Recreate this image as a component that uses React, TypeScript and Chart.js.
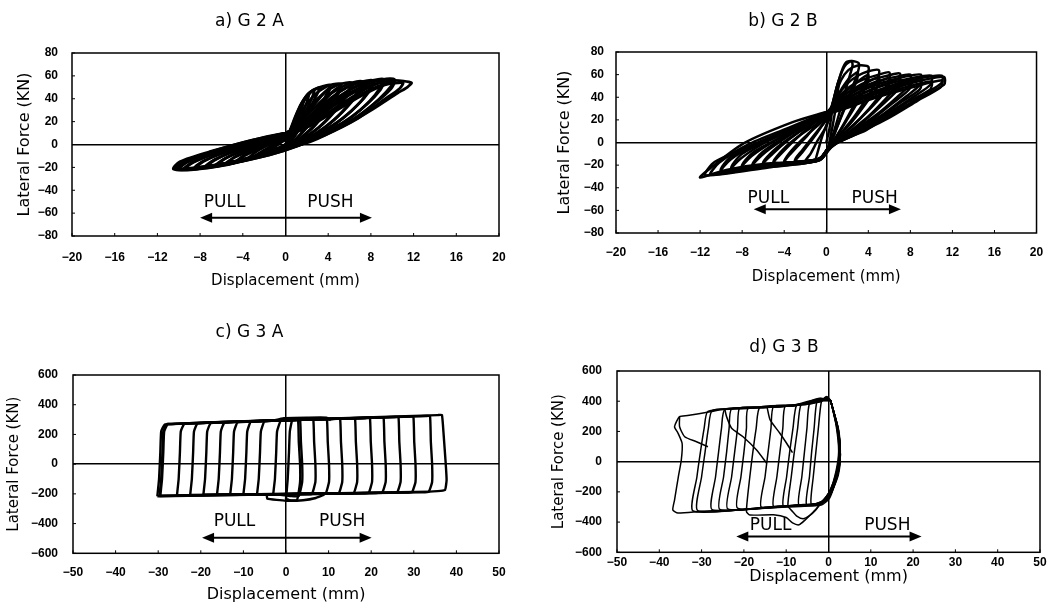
import React, { useEffect, useRef } from "react";
import { Chart, registerables } from "chart.js";
Chart.register(...registerables);

type P = [number, number];

const FONT = "'DejaVu Sans', 'Liberation Sans', sans-serif";
const TICK_FONT = "'Liberation Sans', Arial, sans-serif";

const TICKS_X_G2 = [-20, -16, -12, -8, -4, 0, 4, 8, 12, 16, 20];
const TICKS_Y_G2 = [-80, -60, -40, -20, 0, 20, 40, 60, 80];
const TICKS_X_G3 = [-50, -40, -30, -20, -10, 0, 10, 20, 30, 40, 50];
const TICKS_Y_G3 = [-600, -400, -200, 0, 200, 400, 600];

const TITLES = ["a) G 2 A", "b) G 2 B", "c) G 3 A", "d) G 3 B"];
const X_LABEL = "Displacement (mm)";
const Y_LABEL = "Lateral Force (KN)";
const PULL = "PULL";
const PUSH = "PUSH";

// ---- G2A hysteresis loops (displacement mm, force kN) ----
const G2A_LOOPS: P[][] = [
  [[0,0],[0.3,7],[0.7,15],[1.2,25],[1.0,19],[0.6,9],[0.2,2],[-0.5,-3],[-1.5,-6],[-1.0,-2],[-0.4,2],[0,4]],
  [[0,2],[0.35,9],[0.8,18],[1.3,30],[1.7,38],[1.5,31],[1.0,18],[0.5,6],[0,0],[-1,-4],[-2,-7],[-1.4,-3],[-0.6,1],[0,5]],
  [[0,4],[0.4,11],[0.9,22],[1.4,33],[1.8,40],[2.2,44],[2.0,37],[1.6,27],[1.0,13],[0.4,3],[-0.5,-3],[-1.5,-6.5],[-2.5,-9],[-1.8,-5],[-0.8,1],[0,6]],
  [[0,5],[0.4,11],[0.9,23],[1.4,34],[2.0,43],[2.7,48],[2.5,41],[2.0,31],[1.3,16],[0.5,3],[-0.5,-3.5],[-1.8,-7.5],[-3,-11],[-2.2,-6],[-0.9,1],[0,6]],
  [[0,6],[0.4,12],[0.9,24],[1.5,36],[2.2,45],[3.2,50],[2.9,43],[2.3,32],[1.5,17],[0.6,4],[-0.5,-4],[-2,-8.5],[-3.5,-12.5],[-2.7,-6],[-1.2,2],[0,7]],
  [[0,7],[0.5,13],[1.0,24],[1.6,36],[2.4,46],[3.2,50],[4.2,52],[3.9,45],[3.2,33],[2.2,18],[1.0,5],[0,-3],[-1.5,-7.5],[-3,-11.5],[-4.5,-15],[-3.8,-9],[-2.2,-1],[-0.8,5],[0,8]],
  [[0,6],[0.8,12],[1.8,24],[2.8,36],[3.6,45],[4.2,50],[3.9,43],[3.1,30],[2.0,15],[0.8,3],[-0.2,-3],[-2,-8],[-4.5,-14],[-3.9,-10],[-2,-2],[0,6]],
  [[0,8],[0.6,14],[1.3,26],[2.2,38],[3.2,47],[4.2,52],[5.2,53],[4.9,46],[4.1,34],[3.0,20],[1.6,7],[0.3,-2],[-1.5,-7.5],[-3.5,-12.5],[-5.5,-17.5],[-4.8,-11],[-3,-3],[-1.2,4],[0,8]],
  [[0,6],[1.0,12],[2.2,24],[3.4,36],[4.4,46],[5.2,51],[4.9,44],[4.0,31],[2.7,16],[1.2,4],[0,-3],[-2.5,-10],[-5.5,-16],[-4.7,-11],[-2.5,-2],[0,6]],
  [[0,8],[0.8,15],[1.8,28],[3.0,40],[4.2,49],[5.2,53],[6.2,54],[5.9,47],[5.0,35],[3.8,21],[2.2,8],[0.6,-1],[-1.5,-8],[-4,-14],[-6.5,-19],[-5.7,-12.5],[-3.8,-4],[-1.6,4],[0,8]],
  [[0,7],[1.2,13],[2.6,25],[4.0,37],[5.2,47],[6.2,52],[5.9,45],[4.9,32],[3.4,17],[1.6,5],[0.1,-3],[-3,-11],[-6.5,-18],[-5.6,-12],[-3,-2],[0,7]],
  [[0,8],[1.0,15],[2.3,28],[3.6,40],[5.0,49],[6.2,54],[7.2,55],[6.9,48],[6.0,36],[4.6,22],[2.8,9],[0.8,-1],[-1.5,-8],[-4.5,-15],[-7.5,-20.5],[-6.7,-14],[-4.6,-4.5],[-2,3.5],[0,8]],
  [[0,7],[1.4,13],[3.0,25],[4.6,38],[6.0,48],[7.2,53],[6.9,46],[5.8,33],[4.1,18],[2.0,5],[0.2,-3],[-3.5,-12],[-7.5,-19.5],[-6.6,-13],[-3.5,-2],[0,7]],
  [[0,9],[1.2,16],[2.8,29],[4.3,41],[5.8,50],[7.2,55],[8.2,56],[7.9,49],[7.0,37],[5.4,23],[3.3,10],[1.0,-1],[-1.5,-8.5],[-5,-16],[-8.5,-21.5],[-7.7,-15],[-5.4,-5],[-2.5,3.5],[0,9]],
  [[0,8],[1.6,14],[3.5,27],[5.3,39],[6.9,49],[8.2,54],[7.9,47],[6.7,34],[4.8,19],[2.4,6],[0.3,-3],[-4,-13.5],[-8.5,-20.5],[-7.6,-14],[-4,-2],[0,8]],
  [[0,9],[1.4,16],[3.2,30],[5.0,42],[6.7,51],[8.2,56],[9.2,57],[8.9,50],[7.9,38],[6.2,24],[3.8,10],[1.2,-1],[-1.5,-9],[-5.5,-17],[-9.5,-22],[-8.7,-16],[-6.1,-5.5],[-3,3.5],[0,9]],
  [[0,8],[1.8,14],[4.0,28],[6.0,40],[7.8,50],[9.2,55],[8.9,48],[7.6,35],[5.5,20],[2.8,7],[0.4,-3],[-4.5,-14.5],[-9.5,-21.5],[-8.6,-15],[-4.5,-2],[0,8]],
  [[0,10],[1.6,17],[3.6,31],[5.6,43],[7.5,52],[9.2,57],[10.2,57],[9.9,51],[8.8,40],[7.0,26],[4.4,12],[1.5,0],[-1.5,-9],[-6,-18],[-10,-22],[-9.3,-16],[-6.8,-6],[-3.5,3],[0,10]],
  [[0,9],[2.0,15],[4.4,29],[6.7,42],[8.7,51],[10.2,55],[9.9,49],[8.5,37],[6.2,21],[3.2,7],[0.4,-3],[-5,-15.5],[-10.2,-22],[-9.4,-15],[-5,-2],[0,9]],
  [[0,10],[2.2,16],[4.8,30],[7.2,43],[9.3,52],[11.0,54],[10.7,49],[9.2,39],[6.8,23],[3.6,8],[0.4,-3],[-5,-16],[-10.3,-21.5],[-9.6,-15.5],[-5,-1.5],[0,10]],
  [[0,10],[1.8,18],[4.0,32],[6.3,45],[8.5,53],[10.2,56],[11.8,54],[11.4,50],[10.5,45],[8.2,31],[5.6,17],[2.5,3],[0.3,-3],[-2.4,-10.5],[-5.5,-17.9],[-8.6,-22],[-10.5,-21.5],[-9.9,-15],[-7.1,-6.3],[-2.4,5.4],[0,10]],
];

// ---- G2B hysteresis loops ----
const G2B_LOOPS: P[][] = [
  [[0,0],[0.3,12],[0.6,30],[0.9,45],[1.2,55],[1.1,45],[0.8,25],[0.4,5],[0.1,-6],[-0.4,-13],[-1,-16],[-0.8,-8],[-0.4,5],[0,15],[0.3,22]],
  [[0.3,22],[0.7,38],[1.1,52],[1.5,64],[1.9,71],[2.4,72],[2.5,68],[2.1,55],[1.6,38],[1.0,18],[0.5,3],[0.1,-8],[-0.6,-15],[-2,-17],[-1.5,-10],[-0.8,2],[0,14],[0.3,22]],
  [[0.3,22],[0.8,42],[1.3,58],[1.8,68],[2.4,72],[3.1,70],[3.0,62],[2.4,47],[1.6,28],[0.8,8],[0.3,-3],[-0.3,-12],[-1.2,-16],[-3,-17.5],[-2.4,-10],[-1.3,3],[-0.4,15],[0.2,24]],
  [[0.2,22],[0.8,36],[1.5,48],[2.2,57],[3.0,62],[2.9,55],[2.2,40],[1.4,22],[0.7,6],[0.2,-4],[-0.5,-13],[-1.5,-16],[-3,-16],[-2.3,-7],[-1.2,6],[0.2,22]],
  [[0.2,24],[0.8,40],[1.4,55],[2.1,64],[3.0,68],[4.0,67],[3.9,58],[3.0,40],[2.0,22],[1.0,6],[0.3,-3],[-0.4,-13],[-1.5,-17],[-4,-18],[-3.3,-9],[-2,4],[-0.8,17],[0.2,25]],
  [[0.2,23],[1.0,35],[2.0,46],[3.0,54],[4.0,60],[3.9,52],[3.0,36],[1.9,19],[0.9,4],[0.3,-4],[-0.6,-14],[-2,-16.5],[-4,-17],[-3.2,-6],[-1.8,7],[0.2,23]],
  [[0.2,25],[1.0,40],[2.0,52],[3.0,59],[4.0,63],[5.0,64],[4.9,56],[3.9,40],[2.6,22],[1.2,6],[0.3,-4],[-0.5,-14],[-2,-17.5],[-5,-18.5],[-4.2,-9],[-2.8,4],[-1.2,17],[0.1,25]],
  [[0.2,23],[1.2,34],[2.4,44],[3.7,52],[5.0,58],[4.9,50],[3.8,35],[2.5,19],[1.1,4],[0.3,-4],[-0.6,-14],[-2.5,-17],[-5,-17.5],[-4.1,-6],[-2.4,7],[0.2,23]],
  [[0.1,25],[1.0,38],[2.2,49],[3.6,56],[5,60],[6.0,62],[5.9,53],[4.8,38],[3.3,22],[1.6,7],[0.4,-4],[-0.5,-14],[-2.5,-17.5],[-6,-19.5],[-5.1,-10],[-3.5,3],[-1.6,16],[0,26]],
  [[0.1,24],[1.3,33],[2.8,43],[4.4,51],[6.0,57],[5.9,49],[4.6,34],[3.0,19],[1.4,5],[0.3,-4],[-0.6,-14],[-3,-17.5],[-6,-18.5],[-5,-7],[-3,7],[0.1,24]],
  [[0,26],[1.1,37],[2.5,47],[4.2,55],[5.8,59],[7.0,61],[6.9,52],[5.7,39],[4.0,23],[2.0,8],[0.4,-4],[-0.6,-15],[-3,-18],[-7,-21],[-6.1,-11],[-4.2,2],[-2,15],[0,26]],
  [[0,24],[1.4,32],[3.2,42],[5.1,50],[7.0,56],[6.9,48],[5.4,34],[3.6,19],[1.7,5],[0.3,-4],[-0.7,-15],[-3.5,-18],[-7,-20],[-6,-8],[-3.5,7],[0,24]],
  [[0,26],[1.2,36],[2.9,46],[4.8,54],[6.6,58],[8.0,60],[7.9,51],[6.6,39],[4.7,24],[2.4,9],[0.5,-4],[-0.6,-15],[-3.5,-18.5],[-8,-22.5],[-7.1,-12],[-5,1],[-2.4,14],[0,26]],
  [[0,24],[1.5,31],[3.6,41],[5.8,49],[8.0,55],[7.9,47],[6.2,34],[4.2,19],[2.0,5],[0.3,-4],[-0.7,-15],[-4,-19],[-8,-21.5],[-7,-9],[-4,6],[0,24]],
  [[0,26],[1.3,35],[3.2,45],[5.4,53],[7.4,58],[9.0,60],[8.9,51],[7.5,40],[5.4,25],[2.8,10],[0.5,-4],[-0.7,-15],[-4,-19],[-9,-24],[-8.1,-14],[-5.8,0],[-2.8,13],[0,26]],
  [[0,25],[1.6,31],[4.0,41],[6.5,49],[9.0,55],[8.9,47],[7.0,35],[4.8,20],[2.3,6],[0.3,-4],[-0.7,-15],[-4.5,-20],[-9,-23],[-8,-10],[-4.5,6],[0,25]],
  [[0,26],[1.4,34],[3.6,44],[6.0,52],[8.2,57],[10.0,59],[9.9,51],[8.4,41],[6.1,27],[3.2,11],[0.5,-3],[-0.7,-16],[-4.5,-20],[-10,-26],[-9.1,-15],[-6.6,-1],[-3.2,13],[0,26]],
  [[0,25],[1.7,30],[4.4,40],[7.2,48],[10.0,54],[9.9,47],[7.8,36],[5.4,21],[2.7,7],[0.3,-4],[-0.8,-16],[-5,-21],[-10,-25],[-9,-12],[-5,5],[0,25]],
  [[0,26],[1.5,33],[4.0,43],[6.6,51],[9.0,57],[11.0,59],[11.0,53],[9.4,43],[6.8,28],[3.6,12],[0.5,-3],[-0.8,-16],[-5,-20],[-11,-28.5],[-10.2,-18],[-7.5,-2],[-3.6,13],[0,27]],
  [[0,25],[1.8,30],[4.8,40],[7.9,48],[11.0,55],[10.9,49],[8.7,37],[6.0,22],[3.0,8],[0.3,-4],[-0.8,-16],[-5.5,-22],[-11.5,-29],[-10.6,-17],[-5.5,4],[0,25]],
  [[0,27],[1.6,32],[4.4,42],[7.2,50],[9.6,56],[11.2,58],[11.2,51],[6.3,26],[3.8,11],[1.2,1],[0.4,-4],[-0.5,-15],[-1.5,-17],[-5.6,-18.5],[-9.4,-24],[-12,-31],[-11.6,-27],[-7.9,-1],[-3.2,18],[0,27]],
];

// ---- G3A hysteresis loops ----
const G3A_LOOPS: P[][] = [
  [[0,-235],[0.4,-100],[0.7,80],[0.9,220],[1.5,300],[2.8,302],[3.0,150],[3.3,0],[3.3,-120],[2.6,-240],[0.8,-242],[0,-235]],
  [[-3,-200],[-2.6,-100],[-2.3,80],[-2.1,220],[-1.2,292],[2.3,298],[3.3,298],[3.5,150],[3.8,0],[3.8,-120],[3.0,-215],[1.3,-215],[-3,-200]],
  [[-6.8,-202],[-6.4,-100],[-6.1,80],[-5.9,220],[-5.0,288],[5.4,300],[6.4,300],[6.6,150],[6.9,0],[6.9,-120],[6.1,-200],[4.4,-203],[-6.8,-202]],
  [[-10,-203],[-9.6,-100],[-9.3,80],[-9.1,220],[-8.2,285],[8.6,303],[9.6,303],[9.8,150],[10.1,0],[10.1,-120],[9.3,-198],[7.6,-201],[-10,-203]],
  [[-13.1,-204],[-12.7,-100],[-12.4,80],[-12.2,220],[-11.3,282],[11.7,305],[12.7,305],[12.9,150],[13.2,0],[13.2,-120],[12.4,-196],[10.7,-199],[-13.1,-204]],
  [[-16.2,-205],[-15.8,-100],[-15.5,80],[-15.3,220],[-14.4,280],[15.2,308],[16.2,308],[16.4,150],[16.7,0],[16.7,-120],[15.9,-195],[14.2,-198],[-16.2,-205]],
  [[-19.4,-206],[-19.0,-100],[-18.7,80],[-18.5,220],[-17.6,277],[18.7,311],[19.7,311],[19.9,150],[20.2,0],[20.2,-120],[19.4,-193],[17.7,-196],[-19.4,-206]],
  [[-22.5,-208],[-22.1,-100],[-21.8,80],[-21.6,220],[-20.7,275],[21.9,314],[22.9,314],[23.1,150],[23.4,0],[23.4,-120],[22.6,-191],[20.9,-194],[-22.5,-208]],
  [[-25.6,-210],[-25.2,-100],[-24.9,80],[-24.7,220],[-23.8,272],[25.4,317],[26.4,317],[26.6,150],[26.9,0],[26.9,-120],[26.1,-190],[24.4,-193],[-25.6,-210]],
  [[-29.5,-212],[-29.1,-100],[-28.8,80],[-28.6,220],[-27.7,270],[28.9,320],[29.9,320],[30.1,150],[30.4,0],[30.4,-120],[29.6,-188],[27.9,-191],[-29.5,-212]],
  [[-29.7,-214],[-29.3,-100],[-29.0,80],[-28.8,220],[-27.9,270],[32.8,324],[33.8,324],[34.0,150],[34.3,0],[34.3,-120],[33.5,-186],[31.8,-189],[-29.7,-214]],
  [[-30.2,-216],[-29.8,-100],[-29.5,80],[-29.3,220],[-28.4,268],[35.6,330],[36.6,331],[37.0,200],[37.5,0],[37.7,-107],[37.3,-174],[33.8,-185],[-30.2,-216]],
  [[-3,292],[-0.5,310],[5,313],[9.5,313],[10.5,296]],
  [[-4.5,-205],[-4.4,-232],[0,-246],[4,-243],[7,-228],[9,-205]],
];

// ---- G3B hysteresis loops ----
const G3B_LOOPS: P[][] = [
  [[0.5,405],[1.8,240],[2.4,70],[1.8,-60],[0.4,-190],[-1.5,-262],[-4.1,-280],[-3.6,-100],[-3.0,60],[-2.4,220],[-1.7,395],[-0.8,418],[0.5,405]],
  [[0.5,405],[1.9,235],[2.5,65],[1.9,-65],[0.3,-195],[-1.6,-265],[-5.2,-284],[-4.5,-100],[-4.0,60],[-3.4,220],[-2.8,390],[-1.6,405],[-0.6,428],[0.5,405]],
  [[0.5,405],[2.0,232],[2.6,62],[2.0,-68],[0.3,-200],[-1.7,-268],[-7,-286],[-6.3,-100],[-5.7,60],[-5.1,220],[-4.5,382],[-2,395],[-0.5,422],[0.5,405]],
  [[0.5,405],[2.0,230],[2.6,60],[2.0,-70],[0.3,-205],[-1.7,-270],[-3,-320],[-4.5,-358],[-6,-378],[-7.5,-360],[-8.5,-330],[-9.6,-292],[-8.8,-100],[-8.1,60],[-7.3,220],[-6.5,378],[-4,385],[-1.5,408],[-0.4,432],[0.5,405]],
  [[0.5,405],[2.1,225],[2.7,55],[2.1,-75],[0.3,-210],[-1.8,-275],[-6,-284],[-10.7,-293],[-9.9,-100],[-9.2,60],[-8.4,220],[-7.5,375],[-4,384],[-1.2,410],[0.5,405]],
  [[0.5,405],[2.1,222],[2.7,52],[2.1,-78],[0.3,-212],[-1.8,-276],[-7,-286],[-13,-296],[-12.2,-100],[-11.5,60],[-10.8,220],[-10.2,368],[-5,380],[-1.6,406],[0.5,405]],
  [[0.5,405],[2.1,220],[2.7,50],[2.1,-80],[0.3,-215],[-1.8,-276],[-8,-288],[-15.9,-301],[-15.0,-100],[-14.3,60],[-13.6,220],[-13,365],[-8,373],[-2,402],[0.5,405]],
  [[0.5,405],[2.2,220],[2.7,50],[2.2,-80],[0.3,-220],[-1.5,-268],[-3.5,-330],[-5.5,-385],[-7,-418],[-8.5,-405],[-10,-370],[-13,-352],[-18.6,-353],[-19.4,-330],[-18.6,-100],[-17.9,60],[-17.1,220],[-16.2,360],[-8,374],[-2,404],[0.5,405]],
  [[0.5,405],[2.2,218],[2.7,48],[2.2,-82],[0.3,-222],[-1.8,-277],[-9,-290],[-21.5,-308],[-20.7,-100],[-20.0,60],[-19.4,220],[-19,352],[-12,364],[-5,380],[-1.8,408],[0.5,405]],
  [[0.5,405],[2.2,220],[2.7,50],[2.2,-80],[0.3,-225],[-1.8,-278],[-10,-292],[-23.8,-313],[-22.9,-100],[-22.2,60],[-21.5,220],[-21,355],[-16,360],[-8,372],[-2,405],[0.5,405]],
  [[0.5,405],[2.3,215],[2.8,45],[2.2,-85],[0.3,-228],[-1.8,-279],[-12,-296],[-25.7,-316],[-24.8,-100],[-24.1,60],[-23.5,220],[-22.9,350],[-16,358],[-8,371],[-1.5,412],[0.5,405]],
  [[0.5,405],[2.3,215],[2.8,45],[2.2,-85],[0.3,-228],[-1.8,-279],[-12,-296],[-27.5,-318],[-26.7,-100],[-26.0,60],[-25.3,220],[-24.5,345],[-16,358],[-8,371],[-1.5,412],[0.5,405]],
  [[0.5,405],[2.3,215],[2.8,45],[2.2,-85],[0.2,-230],[-1.9,-280],[-15,-302],[-30.9,-325],[-30.0,-100],[-29.2,60],[-28.4,220],[-27.5,338],[-20,352],[-8,372],[-1.8,418],[0.5,405]],
  [[0.5,405],[2.4,210],[2.8,40],[2.3,-90],[0.2,-232],[-2.0,-281],[-15,-303],[-32,-327],[-31.1,-100],[-30.3,60],[-29.4,220],[-28.5,333],[-20,351],[-8,371],[-1.6,414],[0.5,405]],
  [[0.5,405],[2.2,220],[2.7,50],[2.2,-80],[0.3,-240],[-1.7,-287],[-10,-300],[-20,-316],[-30,-328],[-35.6,-340],[-36.8,-320],[-36.4,-254],[-35.5,-100],[-34.8,11],[-34.6,120],[-35.6,190],[-36.4,231],[-35.2,298],[-33.3,305],[-28,330],[-23.8,352],[-15,362],[-8,375],[-2,420],[0.5,405]],
  [[-24.5,345],[-24.1,298],[-22.9,221],[-20.2,165],[-17,77],[-14.6,-11]],
  [[-14.5,358],[-13.8,276],[-11.5,188],[-9.9,122],[-8.5,60]],
  [[-35.2,300],[-35.2,231],[-34,165],[-31.2,132],[-28.5,99]],
];

// direction arrows (value units)
const ARROW_A = { y: -64, from: -8, to: 8.1, textY: -51, pullX: -5.7, pushX: 4.2 };
const ARROW_B = { y: -59, from: -6.9, to: 7.1, textY: -50, pullX: -5.5, pushX: 4.6 };
const ARROW_C = { y: -495, from: -19.7, to: 20.1, textY: -389, pullX: -12.1, pushX: 13.2 };
const ARROW_D = { y: -496, from: -21.8, to: 22, textY: -424, pullX: -13.7, pushX: 13.9 };

const PANELS = [
  {
    left: 0, top: 0, w: 528, h: 300, title: TITLES[0], loops: G2A_LOOPS, arrow: ARROW_A,
    xTicks: TICKS_X_G2, yTicks: TICKS_Y_G2, xMin: -20, xMax: 20, yMin: -80, yMax: 80,
    yW: 72, xH: 64, rightPad: 29, tPadTop: 11, tPadBot: 21.6,
    yTickPad: 14, xTickPad: 14, yTitleSize: 16, yTitlePad: 15, xTitleSize: 15, xTitlePad: 10,
    lw: 2.8, tension: 0.25,
  },
  {
    left: 528, top: 0, w: 528, h: 300, title: TITLES[1], loops: G2B_LOOPS, arrow: ARROW_B,
    xTicks: TICKS_X_G2, yTicks: TICKS_Y_G2, xMin: -20, xMax: 20, yMin: -80, yMax: 80,
    yW: 88, xH: 67, rightPad: 18, tPadTop: 11, tPadBot: 20.6,
    yTickPad: 12, xTickPad: 12.8, yTitleSize: 16, yTitlePad: 27.4, xTitleSize: 15, xTitlePad: 14,
    lw: 2.5, tension: 0.25,
  },
  {
    left: 0, top: 300, w: 528, h: 307, title: TITLES[2], loops: G3A_LOOPS, arrow: ARROW_C,
    xTicks: TICKS_X_G3, yTicks: TICKS_Y_G3, xMin: -50, xMax: 50, yMin: -600, yMax: 600,
    yW: 73, xH: 53.7, rightPad: 29, tPadTop: 22.8, tPadBot: 31.8,
    yTickPad: 15, xTickPad: 12.5, yTitleSize: 15, yTitlePad: 5, xTitleSize: 16, xTitlePad: 2.5,
    lw: 2.4, tension: 0.12,
  },
  {
    left: 528, top: 300, w: 528, h: 307, title: TITLES[3], loops: G3B_LOOPS, arrow: ARROW_D,
    xTicks: TICKS_X_G3, yTicks: TICKS_Y_G3, xMin: -50, xMax: 50, yMin: -600, yMax: 600,
    yW: 89, xH: 54.7, rightPad: 16, tPadTop: 37.8, tPadBot: 12.8,
    yTickPad: 15, xTickPad: 3.5, yTitleSize: 15, yTitlePad: 21.7, xTitleSize: 16, xTitlePad: 20.4,
    lw: 1.5, tension: 0.2,
  },
];

const framePlugin = {
  id: "frame",
  afterDatasetsDraw(chart: any, _args: any, opts: any) {
    const { ctx, chartArea: a, scales } = chart;
    ctx.save();
    ctx.strokeStyle = "#000";
    ctx.lineWidth = 1.5;
    ctx.strokeRect(a.left, a.top, a.right - a.left, a.bottom - a.top);
    // small inward tick marks
    ctx.lineWidth = 1;
    ctx.beginPath();
    scales.x.ticks.forEach((t: any) => {
      const px = scales.x.getPixelForValue(t.value);
      ctx.moveTo(px, a.bottom);
      ctx.lineTo(px, a.bottom - 3);
    });
    scales.y.ticks.forEach((t: any) => {
      const py = scales.y.getPixelForValue(t.value);
      ctx.moveTo(a.left, py);
      ctx.lineTo(a.left + 3, py);
    });
    ctx.stroke();
    const ar = opts && opts.arrow;
    if (ar) {
      const x0 = scales.x.getPixelForValue(ar.from);
      const x1 = scales.x.getPixelForValue(ar.to);
      const y = scales.y.getPixelForValue(ar.y);
      ctx.lineWidth = 2;
      ctx.beginPath();
      ctx.moveTo(x0 + 6, y);
      ctx.lineTo(x1 - 6, y);
      ctx.stroke();
      ctx.fillStyle = "#000";
      ctx.beginPath();
      ctx.moveTo(x0, y);
      ctx.lineTo(x0 + 12, y - 5);
      ctx.lineTo(x0 + 12, y + 5);
      ctx.closePath();
      ctx.fill();
      ctx.beginPath();
      ctx.moveTo(x1, y);
      ctx.lineTo(x1 - 12, y - 5);
      ctx.lineTo(x1 - 12, y + 5);
      ctx.closePath();
      ctx.fill();
      ctx.font = `17px ${FONT}`;
      ctx.textAlign = "center";
      ctx.textBaseline = "middle";
      const ty = scales.y.getPixelForValue(ar.textY);
      ctx.fillText(PULL, scales.x.getPixelForValue(ar.pullX), ty);
      ctx.fillText(PUSH, scales.x.getPixelForValue(ar.pushX), ty);
    }
    ctx.restore();
  },
};

const fmtTick = (v: any) => (Number(v) < 0 ? "\u2212" + Math.abs(Number(v)) : String(v));

function buildConfig(p: any): any {
  const zeroGrid = {
    drawTicks: false,
    lineWidth: 1.5,
    color: (c: any) => (c.tick && c.tick.value === 0 ? "#000" : "rgba(0,0,0,0)"),
  };
  const tickFont = { family: TICK_FONT, size: 12, weight: "bold" };
  return {
    type: "scatter",
    data: {
      datasets: p.loops.map((loop: P[]) => ({
        data: loop.map(([x, y]) => ({ x, y })),
        showLine: true,
        borderColor: "#000",
        backgroundColor: "#000",
        borderWidth: p.lw,
        pointRadius: 0,
        tension: p.tension,
        fill: false,
      })),
    },
    options: {
      animation: false,
      responsive: false,
      maintainAspectRatio: false,
      layout: { padding: { left: 0, right: p.rightPad, top: 0, bottom: 0 } },
      plugins: {
        legend: { display: false },
        tooltip: { enabled: false },
        title: {
          display: true,
          text: p.title,
          color: "#000",
          font: { family: FONT, size: 17, weight: "normal" },
          padding: { top: p.tPadTop, bottom: p.tPadBot },
        },
        frame: { arrow: p.arrow },
      },
      scales: {
        x: {
          type: "linear",
          min: p.xMin,
          max: p.xMax,
          afterBuildTicks: (s: any) => {
            s.ticks = p.xTicks.map((v: number) => ({ value: v }));
          },
          afterFit: (s: any) => {
            s.height = p.xH;
          },
          grid: zeroGrid,
          border: { display: false },
          ticks: {
            color: "#000",
            font: tickFont,
            padding: p.xTickPad,
            maxRotation: 0,
            autoSkip: false,
            callback: fmtTick,
          },
          title: {
            display: true,
            text: X_LABEL,
            color: "#000",
            font: { family: FONT, size: p.xTitleSize },
            padding: { top: 0, bottom: p.xTitlePad },
          },
        },
        y: {
          type: "linear",
          min: p.yMin,
          max: p.yMax,
          afterBuildTicks: (s: any) => {
            s.ticks = p.yTicks.map((v: number) => ({ value: v }));
          },
          afterFit: (s: any) => {
            s.width = p.yW;
          },
          grid: zeroGrid,
          border: { display: false },
          ticks: {
            color: "#000",
            font: tickFont,
            padding: p.yTickPad,
            autoSkip: false,
            callback: fmtTick,
          },
          title: {
            display: true,
            text: Y_LABEL,
            color: "#000",
            font: { family: FONT, size: p.yTitleSize },
            padding: { top: p.yTitlePad, bottom: 0 },
          },
        },
      },
    },
    plugins: [framePlugin],
  };
}

export default function App() {
  const r0 = useRef<HTMLCanvasElement>(null);
  const r1 = useRef<HTMLCanvasElement>(null);
  const r2 = useRef<HTMLCanvasElement>(null);
  const r3 = useRef<HTMLCanvasElement>(null);
  const refs = [r0, r1, r2, r3];
  useEffect(() => {
    const charts = PANELS.map((p, i) => new Chart(refs[i].current as HTMLCanvasElement, buildConfig(p)));
    return () => charts.forEach((c) => c.destroy());
  }, []);
  return (
    <div style={{ position: "fixed", left: 0, top: 0, width: 1056, height: 607, background: "#fff" }}>
      {PANELS.map((p, i) => (
        <canvas
          key={i}
          ref={refs[i]}
          width={p.w}
          height={p.h}
          style={{ position: "absolute", left: p.left, top: p.top, width: p.w, height: p.h }}
        />
      ))}
    </div>
  );
}
